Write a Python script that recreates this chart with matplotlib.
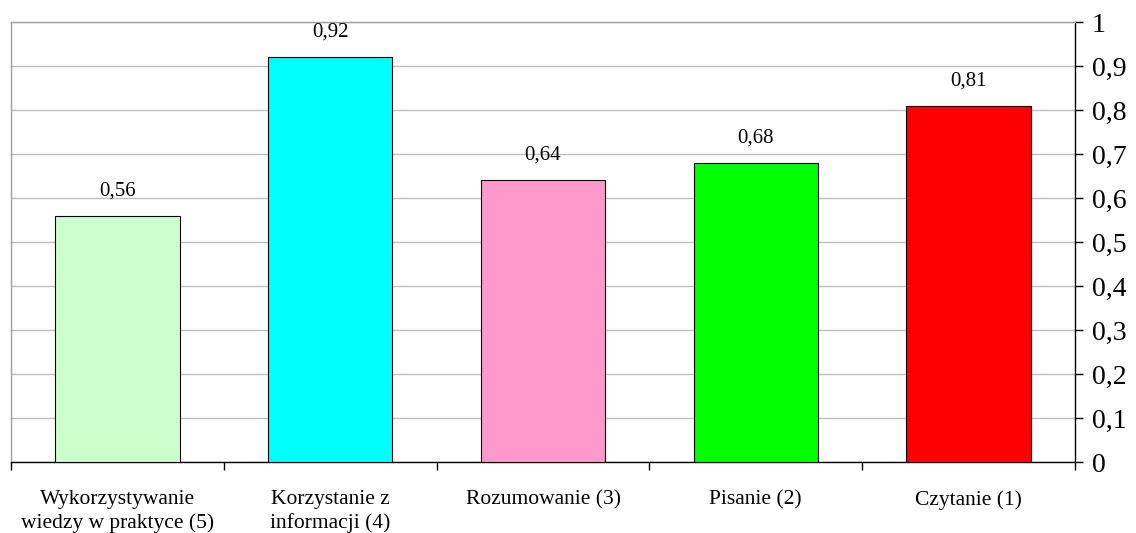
import matplotlib.pyplot as plt
import numpy as np

categories = ['Wykorzystywanie\nwiedzy w praktyce (5)', 'Korzystanie z\ninformacji (4)',
              'Rozumowanie (3)', 'Pisanie (2)', 'Czytanie (1)']
values = [0.56, 0.92, 0.64, 0.68, 0.81]
labels = ['0,56', '0,92', '0,64', '0,68', '0,81']
colors = ['#CCFFCC', '#00FFFF', '#FF99CC', '#00FF00', '#FF0000']
yticks = [0, 0.1, 0.2, 0.3, 0.4, 0.5, 0.6, 0.7, 0.8, 0.9, 1]
ytick_labels = ['0', '0,1', '0,2', '0,3', '0,4', '0,5', '0,6', '0,7', '0,8', '0,9', '1']

plt.rcParams['font.family'] = ['Liberation Serif', 'DejaVu Serif']

fig = plt.figure(figsize=(11.36, 5.33), dpi=100)
ax = fig.add_axes([11/1136, 71/533, 1064/1136, 440/533])

x = np.arange(len(categories))
ax.bar(x, values, width=0.585, color=colors, edgecolor='black', linewidth=0.8, zorder=3)
for xi, v, lab in zip(x, values, labels):
    ax.text(xi, v + 0.035, lab, ha='center', va='bottom', fontsize=15)

ax.set_xlim(-0.5, len(categories) - 0.5)
ax.set_ylim(0, 1)
ax.set_yticks(yticks)
ax.set_yticklabels(ytick_labels, fontsize=20)
ax.yaxis.tick_right()
ax.tick_params(axis='y', direction='out', length=6, width=1, color='black', pad=6, right=True, left=False)
ax.grid(axis='y', color='#c0c0c0', linewidth=1, zorder=0)

ax.set_xticks(x)
ax.set_xticklabels(categories, fontsize=15.5, linespacing=1.3)
ax.tick_params(axis='x', which='major', length=0, pad=20)
ax.set_xticks(np.arange(-0.5, len(categories)), minor=True)
ax.tick_params(axis='x', which='minor', direction='out', length=6, width=1, color='black')

ax.spines['top'].set_color('#a0a0a0')
ax.spines['left'].set_color('#a0a0a0')
ax.spines['right'].set_color('black')
ax.spines['bottom'].set_color('black')
for s in ax.spines.values():
    s.set_linewidth(1)

fig.savefig('out.png', dpi=100)
